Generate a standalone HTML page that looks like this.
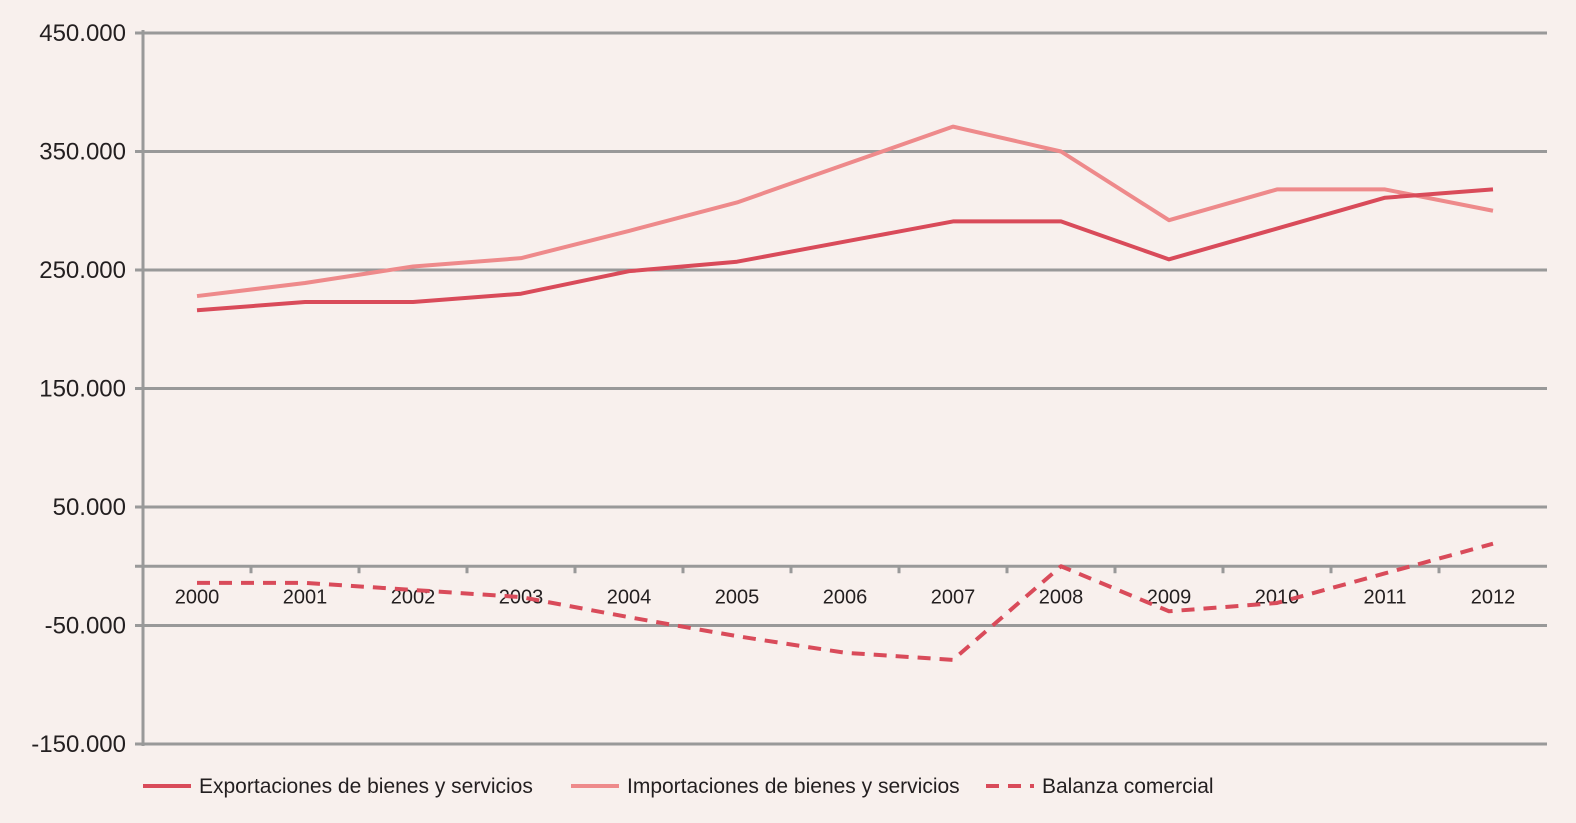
<!DOCTYPE html>
<html><head><meta charset="utf-8"><style>
html,body{margin:0;padding:0;background:#f8f0ed;}
svg{display:block;font-family:"Liberation Sans",sans-serif;}
</style></head><body>
<svg id="chart" width="1576" height="823" viewBox="0 0 1576 823">
<rect width="1576" height="823" fill="#f8f0ed"/>
<g id="grid"></g><g id="axes"></g><g id="series"></g><g id="legend"></g>
</svg>
<script>
const categories=["2000","2001","2002","2003","2004","2005","2006","2007","2008","2009","2010","2011","2012"];
const exportsVals=[216000,223000,223000,230000,249000,257000,274000,291000,291000,259000,285000,311000,318000];
const importsVals=[228000,239000,253000,260000,283000,307000,339000,371000,350000,292000,318000,318000,300000];
const balanceVals=[-14000,-14000,-20000,-26000,-43000,-59000,-73000,-79000,0,-38000,-31000,-6000,19000];
const yTicks=[450000,350000,250000,150000,50000,-50000,-150000];
const yTickLabels=["450.000","350.000","250.000","150.000","50.000","-50.000","-150.000"];
const NS="http://www.w3.org/2000/svg";
const plotLeft=143,plotRight=1547,plotTop=33,plotBottom=744;
const yMin=-150000,yMax=450000;
const band=(plotRight-plotLeft)/categories.length;
function xPos(i){return plotLeft+band*(i+0.5);}
function yPos(v){return plotBottom-(v-yMin)/(yMax-yMin)*(plotBottom-plotTop);}
function mk(tag,attrs,parent){const e=document.createElementNS(NS,tag);for(const k in attrs)e.setAttribute(k,attrs[k]);parent.appendChild(e);return e;}
const grid=document.getElementById('grid'),axes=document.getElementById('axes'),series=document.getElementById('series'),legend=document.getElementById('legend');
yTicks.forEach((t,i)=>{
 const l=mk('line',{x1:135,x2:plotRight,y1:yPos(t),y2:yPos(t),stroke:'#999',"stroke-width":3},grid);
 
 
 const tx=mk('text',{x:126,y:yPos(t)+8,"text-anchor":"end","font-size":24,fill:'#231f20'},axes);
 tx.textContent=yTickLabels[i];
 
 
});
const ax=mk('line',{x1:plotLeft,x2:plotLeft,y1:plotTop-3,y2:plotBottom+2,stroke:'#999',"stroke-width":3},axes);


const x0=mk('line',{x1:135,x2:plotRight,y1:yPos(0),y2:yPos(0),stroke:'#999',"stroke-width":3},axes);


categories.forEach((c,i)=>{
 if(i>0){const tk=mk('line',{x1:plotLeft+band*i,x2:plotLeft+band*i,y1:yPos(0),y2:yPos(0)+7,stroke:'#999',"stroke-width":3},axes);
 
 }
 const tx=mk('text',{x:xPos(i),y:yPos(0)+37,"text-anchor":"middle","font-size":20,fill:'#231f20'},axes);
 tx.textContent=c;
 
 
});
function drawLine(vals,color,dash,name){
 const p=mk('polyline',{points:vals.map((v,i)=>xPos(i)+','+yPos(v)).join(' '),fill:'none',stroke:color,"stroke-width":4,"stroke-dasharray":dash||'none',"stroke-linejoin":"round"},series);
 
 
}
drawLine(importsVals,'#ee8a8b',null,'imports-line');
drawLine(exportsVals,'#d94b5a',null,'exports-line');
drawLine(balanceVals,'#d94b5a','13 9','balance-line');
const items=[["Exportaciones de bienes y servicios",'#d94b5a',null,143],["Importaciones de bienes y servicios",'#ee8a8b',null,571],["Balanza comercial",'#d94b5a','13 9',986]];
items.forEach(it=>{
 const g=mk('g',{},legend);
 
 
 mk('line',{x1:it[3],x2:it[3]+48,y1:786,y2:786,stroke:it[1],"stroke-width":4,"stroke-dasharray":it[2]||'none'},g);
 const t=mk('text',{x:it[3]+56,y:793,"font-size":21,fill:'#231f20'},g);
 t.textContent=it[0];
});
</script>
</body></html>
